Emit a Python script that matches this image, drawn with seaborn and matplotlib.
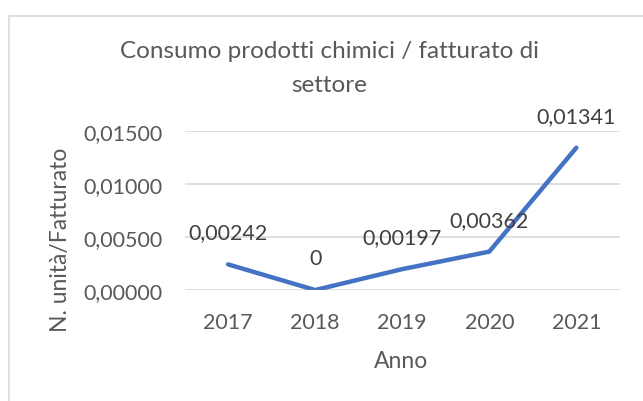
import matplotlib
matplotlib.use("Agg")
import matplotlib.pyplot as plt
import seaborn as sns
import pandas as pd
from matplotlib.patches import Rectangle

# Data
anni = ['2017', '2018', '2019', '2020', '2021']
valori = [0.00242, 0.0, 0.00197, 0.00362, 0.01341]
etichette = ['0,00242', '0', '0,00197', '0,00362', '0,01341']
y_ticks = [0.0, 0.005, 0.010, 0.015]
y_tick_labels = ['0,00000', '0,00500', '0,01000', '0,01500']

df = pd.DataFrame({'Anno': anni, 'Valore': valori})

sns.set_style('white')
plt.rcParams['font.family'] = ['Lato', 'DejaVu Sans']

grey = '#595959'
fig = plt.figure(figsize=(6.43, 4.02), dpi=100)
ax = fig.add_axes([0.287, 0.276, 0.677, 0.396])

# chart border
fig.patches.append(Rectangle((9 / 643, -0.1), 1.2, 1 - 17 / 402 + 0.1,
                             transform=fig.transFigure, fill=False,
                             edgecolor='#D9D9D9', linewidth=1.2))

ax.yaxis.grid(True, color='#D9D9D9', linewidth=1.2)
ax.set_axisbelow(True)

sns.lineplot(data=df, x='Anno', y='Valore', ax=ax, color='#4472C4',
             linewidth=3.2, sort=False)
for line in ax.get_lines():
    line.set_solid_capstyle('round')
    line.set_solid_joinstyle('round')

for i, (v, lab) in enumerate(zip(valori, etichette)):
    ax.annotate(lab, (i, v), xytext=(0, 23), textcoords='offset points',
                ha='center', va='center', fontsize=15.5, color='#404040')

ax.set_xlim(-0.5, 4.5)
ax.set_ylim(0, 0.015)
ax.set_yticks(y_ticks)
ax.set_yticklabels(y_tick_labels)
ax.tick_params(axis='both', length=0, labelsize=15.5, labelcolor=grey)
ax.tick_params(axis='x', pad=16)
ax.tick_params(axis='y', pad=16)
for s in ax.spines.values():
    s.set_visible(False)

ax.set_xlabel('')
ax.set_ylabel('')
fig.text(401 / 643, 1 - 362 / 402, 'Anno', ha='center', va='center',
         fontsize=16.5, color=grey)
fig.text(60 / 643, 1 - 240 / 402, 'N. unità/Fatturato', ha='center', va='center',
         rotation=90, fontsize=16.5, color=grey)

fig.text(329 / 643, 1 - 52 / 402, 'Consumo prodotti chimici / fatturato di',
         ha='center', va='center', fontsize=17.5, color=grey)
fig.text(329 / 643, 1 - 86 / 402, 'settore',
         ha='center', va='center', fontsize=17.5, color=grey)

fig.savefig('out.png', dpi=100)
